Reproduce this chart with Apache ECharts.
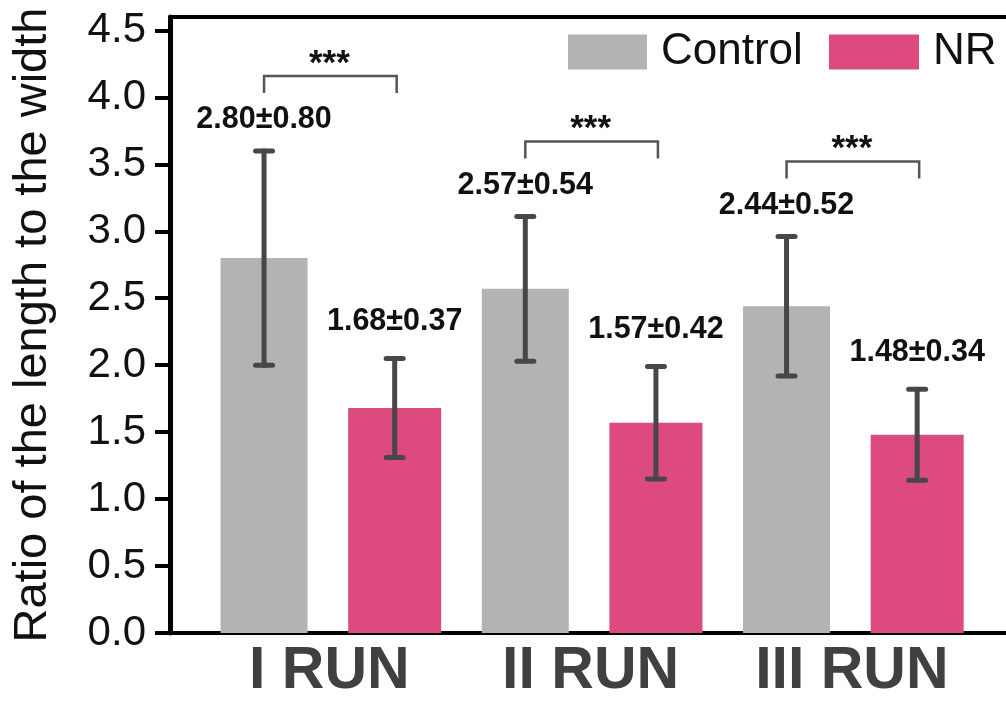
<!DOCTYPE html>
<html>
<head>
<meta charset="utf-8">
<script src="https://cdn.jsdelivr.net/npm/echarts@6/dist/echarts.min.js"></script>
<style>
  html, body { margin: 0; padding: 0; background: #fff; }
  #chart { width: 1006px; height: 701px; }
</style>
</head>
<body>
<div id="chart"></div>
<script>
// Length/width ratio per run: mean ± SD for each group
const categories = ['I RUN', 'II RUN', 'III RUN'];
const controlMean = [2.80, 2.57, 2.44];
const controlSd = [0.80, 0.54, 0.52];
const nrMean = [1.68, 1.57, 1.48];
const nrSd = [0.37, 0.42, 0.34];
const significance = ['***', '***', '***'];
const yTicks = [0, 0.5, 1.0, 1.5, 2.0, 2.5, 3.0, 3.5, 4.0, 4.5];

const FONT = "'Liberation Sans', Arial, Helvetica, sans-serif";
const SHIFT = 0.25;            // half the distance between the paired bars, in category units
const X_MIN = -0.61, X_MAX = 2.59;

const chart = echarts.init(document.getElementById('chart'), null, { renderer: 'canvas' });

// vertical error bar with caps, plus the "mean±sd" text above it
function errorSeries(means, sds, shift, axisIndex, labelLift) {
  return {
    type: 'custom',
    xAxisIndex: axisIndex,
    yAxisIndex: 0,
    z: 5,
    silent: true,
    data: means.map((m, i) => [i + shift, m, sds[i]]),
    renderItem(params, api) {
      const x = api.value(0), m = api.value(1), s = api.value(2);
      const top = api.coord([x, m + s]);
      const bot = api.coord([x, m - s]);
      const cap = 8.5;
      const stroke = { stroke: '#474747', lineWidth: 5, lineCap: 'round' };
      return {
        type: 'group',
        children: [
          { type: 'line', shape: { x1: top[0], y1: top[1], x2: bot[0], y2: bot[1] }, style: stroke },
          { type: 'line', shape: { x1: top[0] - cap, y1: top[1], x2: top[0] + cap, y2: top[1] }, style: stroke },
          { type: 'line', shape: { x1: bot[0] - cap, y1: bot[1], x2: bot[0] + cap, y2: bot[1] }, style: stroke },
          {
            type: 'text',
            x: top[0], y: top[1] - labelLift,
            style: {
              text: m.toFixed(2) + '\u00b1' + s.toFixed(2),
              align: 'center', verticalAlign: 'middle',
              font: 'bold 30.5px ' + FONT, fill: '#111'
            }
          }
        ]
      };
    }
  };
}

// significance bracket between each Control/NR pair
const bracketSeries = {
  type: 'custom',
  xAxisIndex: 0,
  yAxisIndex: 0,
  z: 6,
  silent: true,
  data: controlMean.map((m, i) => [i, m + controlSd[i]]),
  renderItem(params, api) {
    const i = api.value(0), h = api.value(1);
    const left = api.coord([i - SHIFT, h]);
    const right = api.coord([i + SHIFT, h]);
    const topY = left[1] - 75;
    const leg = 17;
    return {
      type: 'group',
      children: [
        {
          type: 'polyline',
          shape: { points: [[left[0], topY + leg], [left[0], topY], [right[0] + 2, topY], [right[0] + 2, topY + leg]] },
          style: { stroke: '#555', lineWidth: 2.5, fill: null }
        },
        {
          type: 'text',
          x: (left[0] + right[0]) / 2, y: topY - 12,
          style: {
            text: significance[params.dataIndex],
            align: 'center', verticalAlign: 'middle',
            font: 'bold 35px ' + FONT, fill: '#111'
          }
        }
      ]
    };
  }
};

function legendFor(name, left, width) {
  return {
    data: [name],
    left: left,
    top: 30,
    padding: 0,
    icon: 'rect',
    itemWidth: width,
    itemHeight: 35,
    selectedMode: false,
    textStyle: { fontFamily: FONT, fontSize: 44, color: '#111', padding: [0, 0, 0, 9] }
  };
}

const option = {
  animation: false,
  backgroundColor: '#fff',
  textStyle: { fontFamily: FONT },
  legend: [legendFor('Control', 568, 79), legendFor('NR', 829, 90)],
  grid: { left: 170, right: 0, top: 17, bottom: 57, containLabel: false },
  xAxis: [
    {
      type: 'value', min: X_MIN, max: X_MAX, position: 'bottom',
      axisLine: { show: true, onZero: false, lineStyle: { color: '#000', width: 4 } },
      axisTick: { show: false },
      splitLine: { show: false },
      axisLabel: {
        customValues: [0, 1, 2],
        formatter: v => categories[Math.round(v)],
        fontFamily: FONT, fontSize: 59, fontWeight: 'bold', color: '#404040', margin: 9
      }
    },
    {
      type: 'value', min: X_MIN, max: X_MAX, position: 'top',
      axisLine: { show: true, onZero: false, lineStyle: { color: '#000', width: 4 } },
      axisTick: { show: false },
      splitLine: { show: false },
      axisLabel: { show: false }
    }
  ],
  yAxis: {
    type: 'value', min: 0, max: 4.6,
    name: 'Ratio of the length to the width',
    nameLocation: 'middle', nameGap: 113,
    nameTextStyle: { fontFamily: FONT, fontSize: 47, color: '#111' },
    axisLine: { show: true, onZero: false, lineStyle: { color: '#000', width: 5 } },
    axisTick: { show: true, inside: false, length: 15, customValues: yTicks, lineStyle: { color: '#000', width: 4 } },
    splitLine: { show: false },
    axisLabel: {
      customValues: yTicks,
      formatter: v => v.toFixed(1),
      fontFamily: FONT, fontSize: 42, color: '#111', margin: 24
    }
  },
  series: [
    {
      name: 'Control', type: 'bar', xAxisIndex: 0, yAxisIndex: 0,
      barWidth: 87,
      itemStyle: { color: '#b3b3b3' },
      data: controlMean.map((v, i) => [i - SHIFT, v])
    },
    {
      name: 'NR', type: 'bar', xAxisIndex: 1, yAxisIndex: 0,
      barWidth: 93,
      itemStyle: { color: '#dc4a80' },
      data: nrMean.map((v, i) => [i + SHIFT, v])
    },
    errorSeries(controlMean, controlSd, -SHIFT, 0, 31),
    errorSeries(nrMean, nrSd, SHIFT, 1, 37),
    bracketSeries
  ]
};

chart.setOption(option);
</script>
</body>
</html>
